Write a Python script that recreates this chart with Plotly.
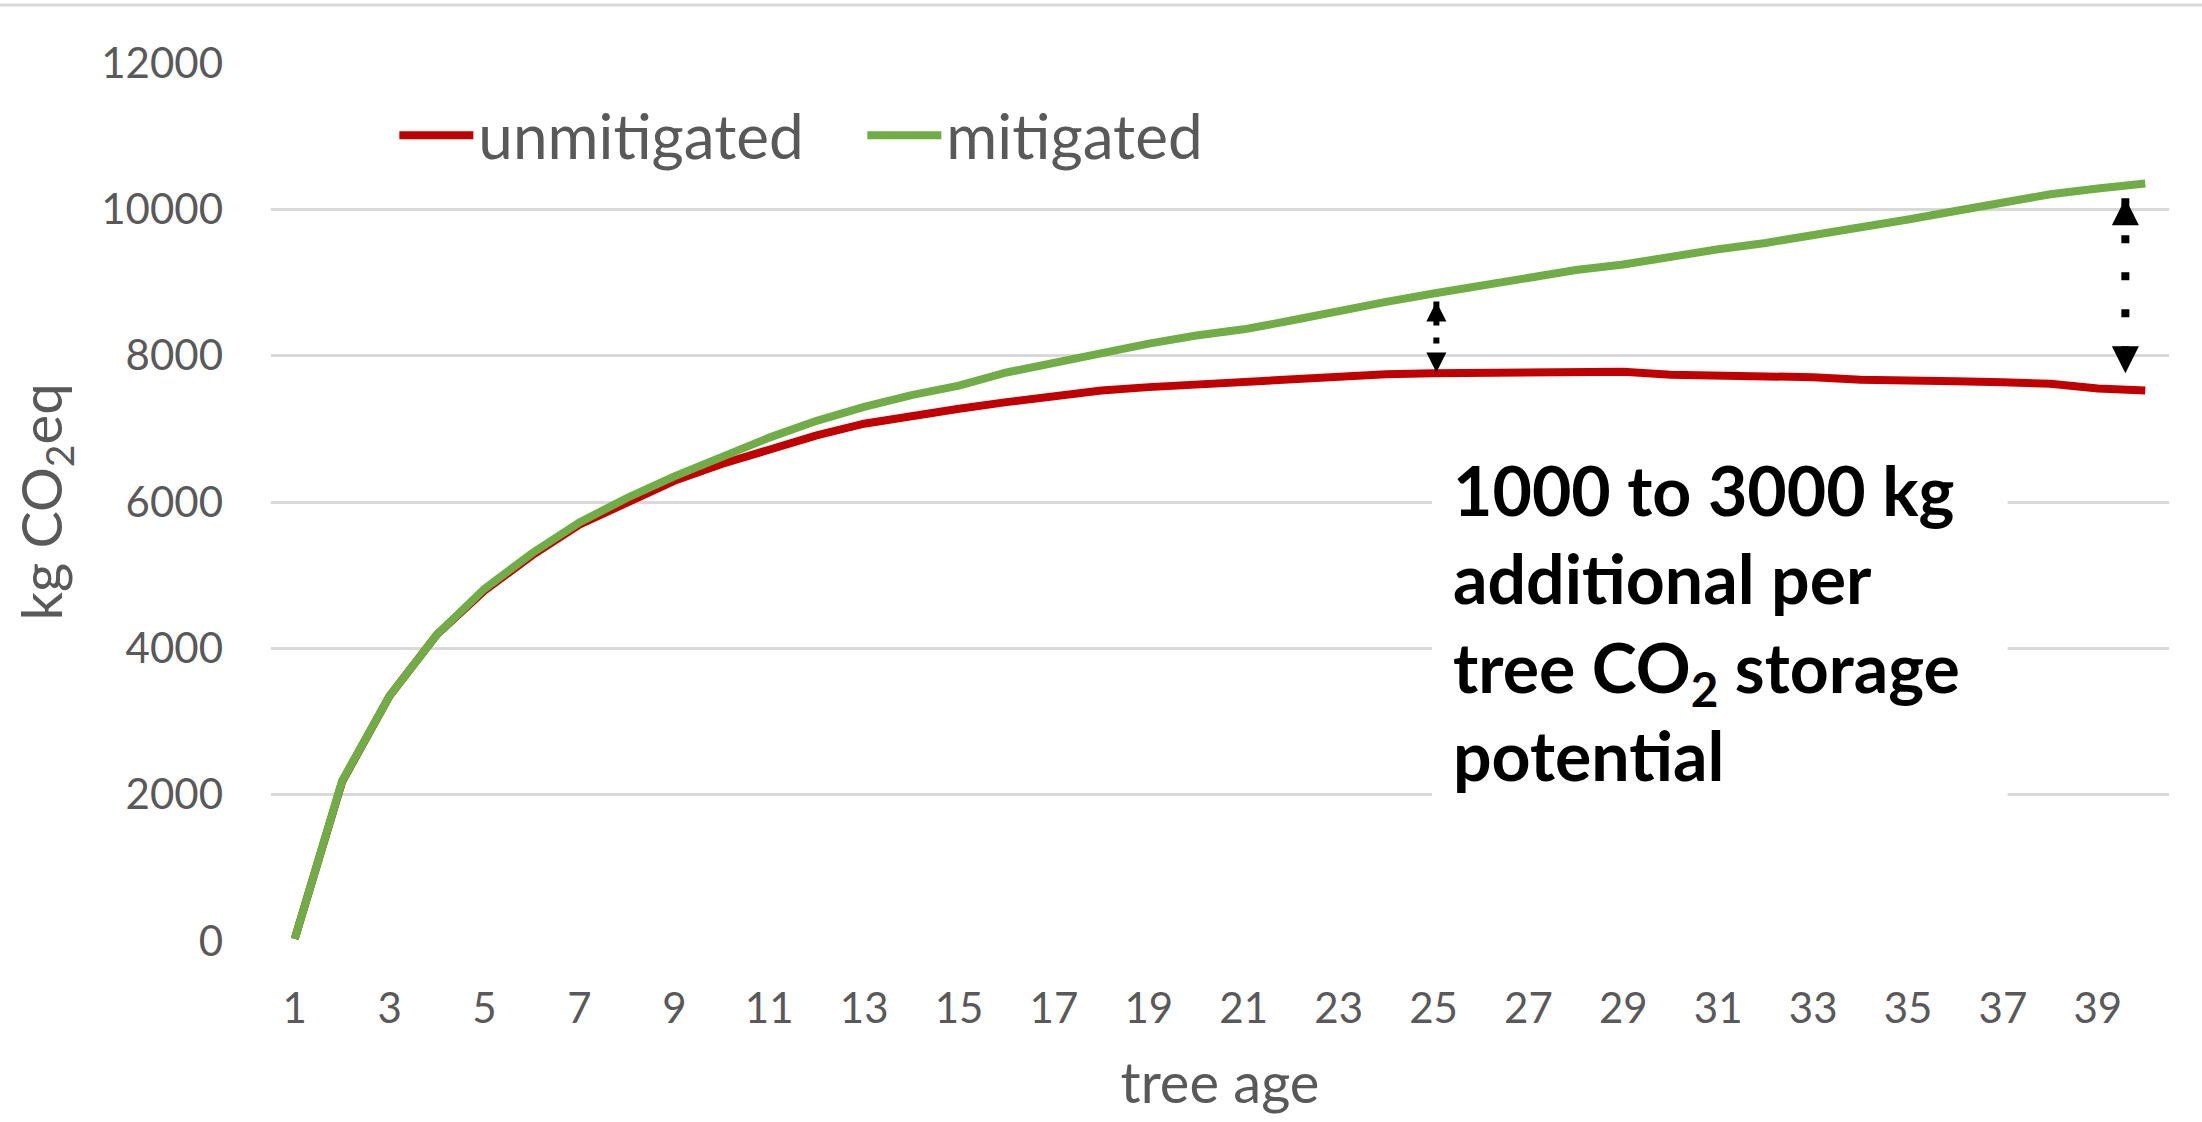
import plotly.graph_objects as go

# tree age categories
age = list(range(1, 41))

# kg CO2eq per tree
unmitigated = [30, 2180, 3350, 4190, 4790, 5270, 5690, 6000, 6290, 6520,
               6720, 6910, 7070, 7180, 7275, 7365, 7455, 7525, 7570, 7605,
               7640, 7690, 7720, 7745, 7760, 7760, 7770, 7780, 7780, 7740,
               7728, 7725, 7705, 7670, 7650, 7650, 7638, 7615, 7550, 7523]
mitigated = [30, 2190, 3350, 4190, 4815, 5300, 5720, 6055, 6350, 6620,
             6880, 7110, 7300, 7460, 7590, 7770, 7910, 8050, 8165, 8275,
             8360, 8480, 8615, 8735, 8850, 8965, 9075, 9170, 9245, 9355,
             9455, 9541, 9642, 9748, 9862, 9977, 10083, 10206, 10284, 10353]

# the two dotted double arrows showing the gap
arrow_x = [25.06, 39.58]
arrow_top = [8740, 10153]
arrow_bottom = [7770, 7760]

x_ticks = list(range(1, 40, 2))
y_ticks = list(range(0, 12001, 2000))

note_lines = ["1000 to 3000 kg", "additional per", "tree CO<sub>2</sub> storage", "potential"]

RED = "#C00000"
GREEN = "#70AD47"
GREY_TXT = "#595959"
GRID = "#D9D9D9"
FONT = "Lato"

fig = go.Figure()

# main series
fig.add_trace(go.Scatter(x=age, y=unmitigated, mode="lines", name="unmitigated",
                         line=dict(color=RED, width=8)))
fig.add_trace(go.Scatter(x=age, y=mitigated, mode="lines", name="mitigated",
                         line=dict(color=GREEN, width=8)))

# dotted arrows: shaft + two heads each
sizes = [(6, "6px,12px", 20), (8, "8px,29px", 27)]
for i in range(len(arrow_x)):
    lw, dash, head = sizes[i]
    fig.add_trace(go.Scatter(x=[arrow_x[i], arrow_x[i]], y=[arrow_top[i], arrow_bottom[i]],
                             mode="lines", showlegend=False, hoverinfo="skip",
                             line=dict(color="black", width=lw, dash=dash)))
    fig.add_trace(go.Scatter(x=[arrow_x[i], arrow_x[i]], y=[arrow_top[i], arrow_bottom[i]],
                             mode="markers", showlegend=False, hoverinfo="skip",
                             marker=dict(symbol=["arrow-up", "arrow-down"], size=head,
                                         color="black", line=dict(width=0))))

# white box behind the note (breaks the gridlines like the original text box)
fig.add_shape(type="rect", x0=24.97, x1=37.1, y0=1500, y1=7000,
              fillcolor="white", line=dict(width=0), layer="between")

fig.add_annotation(x=25.37, y=4354, xanchor="left", yanchor="middle", align="left",
                   text="<br>".join(note_lines), showarrow=False,
                   font=dict(family=FONT, size=68, color="black", weight="bold"))

# thin frame line at the very top of the chart area
fig.add_shape(type="line", xref="paper", yref="paper",
              x0=-0.143, x1=1.02, y0=1.066, y1=1.066,
              line=dict(color=GRID, width=3))

fig.update_xaxes(range=[0.5, 40.5], tickvals=x_ticks, showgrid=False, zeroline=False,
                 showline=False, ticks="", ticklabelstandoff=39,
                 tickfont=dict(family=FONT, size=42, color=GREY_TXT),
                 title=dict(text="tree age", standoff=32,
                            font=dict(family=FONT, size=56, color=GREY_TXT)))
fig.update_yaxes(range=[0, 12000], tickvals=y_ticks, tickformat="d",
                 showgrid=True, gridcolor=GRID,
                 gridwidth=3, zeroline=False, showline=False, ticks="",
                 ticklabelstandoff=47,
                 tickfont=dict(family=FONT, size=42, color=GREY_TXT),
                 title=dict(text="kg CO<sub>2</sub>eq", standoff=20,
                            font=dict(family=FONT, size=56, color=GREY_TXT)))

fig.update_layout(width=2202, height=1122,
                  margin=dict(l=271, r=33, t=63, b=181),
                  paper_bgcolor="white", plot_bgcolor="white",
                  showlegend=True,
                  legend=dict(orientation="h", x=0.065, y=0.9175, xanchor="left", yanchor="middle",
                              bgcolor="rgba(0,0,0,0)", itemwidth=74,
                              entrywidth=379, entrywidthmode="pixels",
                              font=dict(family=FONT, size=62, color=GREY_TXT)))

# drop the browser's default body margin so the figure sits at the page corner
fig.write_html("out.html", config={"displayModeBar": False},
               post_script="document.body.style.margin='0';")
